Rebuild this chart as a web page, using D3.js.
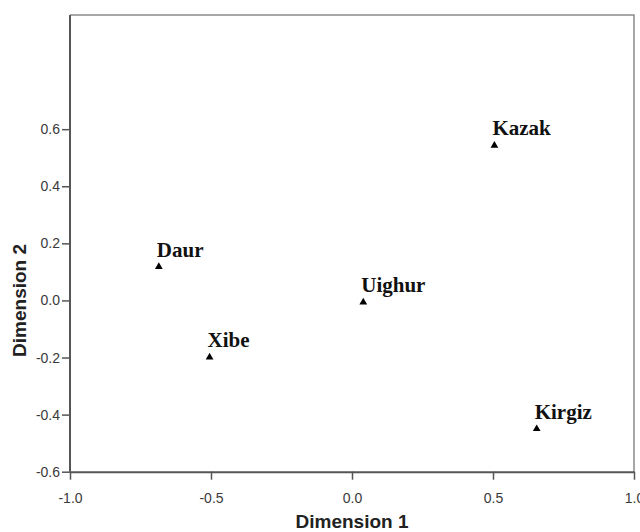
<!DOCTYPE html>
<html>
<head>
<meta charset="utf-8">
<script src="https://cdn.jsdelivr.net/npm/d3@7"></script>
<style>
  body { margin: 0; background: #fff; }
  .tick text { font-family: Arial, "Liberation Sans", sans-serif; font-size: 14px; fill: #3a3a3a; }
  .axis-title { font-family: Arial, "Liberation Sans", sans-serif; font-weight: bold; font-size: 19px; fill: #222; }
  .label { font-family: "Times New Roman", "Liberation Serif", serif; font-weight: bold; font-size: 21px; fill: #111; }
</style>
</head>
<body>
<div id="chart"></div>
<script>
// MDS stimulus coordinates
const groups = ['Daur', 'Xibe', 'Uighur', 'Kazak', 'Kirgiz'];
const dim1 = [-0.685, -0.505, 0.04, 0.505, 0.655];
const dim2 = [0.118, -0.199, -0.006, 0.543, -0.45];
const xTicks = [-1.0, -0.5, 0.0, 0.5, 1.0];
const yTicks = [-0.6, -0.4, -0.2, 0.0, 0.2, 0.4, 0.6];

const width = 640;
const height = 532;
const plotLeft = 70, plotRight = 634, plotTop = 15, plotBottom = 471.7;

// SPSS prints a plain hyphen for negatives
const fmt = d => d3.format('.1f')(d).replace('\u2212', '-');

const svg = d3.select('#chart')
  .append('svg')
  .attr('width', width)
  .attr('height', height);

const x = d3.scaleLinear().domain([-1, 1]).range([plotLeft, plotRight]);
const y = d3.scaleLinear().domain([-0.6, 1.0]).range([plotBottom, plotTop]);

const points = groups.map((name, i) => ({ name, d1: dim1[i], d2: dim2[i] }));

// top / right frame
svg.append('path')
  .attr('d', `M${plotLeft},${plotTop}H${plotRight}V${plotBottom}`)
  .attr('fill', 'none')
  .attr('stroke', '#8a8a8a')
  .attr('stroke-width', 1.5);

// axes
const xAxis = svg.append('g')
  .attr('transform', `translate(0,${plotBottom})`)
  .call(d3.axisBottom(x).tickValues(xTicks).tickFormat(fmt).tickSize(8).tickSizeOuter(0));
xAxis.select('.domain').attr('stroke', '#555').attr('stroke-width', 2);
xAxis.selectAll('.tick line').attr('stroke', '#555').attr('stroke-width', 1.5);
xAxis.selectAll('.tick text').attr('dy', '1.45em');

const yAxis = svg.append('g')
  .attr('transform', `translate(${plotLeft},0)`)
  .call(d3.axisLeft(y).tickValues(yTicks).tickFormat(fmt).tickSize(8).tickSizeOuter(0));
yAxis.select('.domain').attr('d', `M0,${plotTop}V${plotBottom}`).attr('stroke', '#555').attr('stroke-width', 2);
yAxis.selectAll('.tick line').attr('stroke', '#555').attr('stroke-width', 1.5);
yAxis.selectAll('.tick text').attr('x', -10);

// axis titles
svg.append('text')
  .attr('class', 'axis-title')
  .attr('x', x(0))
  .attr('y', 528)
  .attr('text-anchor', 'middle')
  .text('Dimension 1');

svg.append('text')
  .attr('class', 'axis-title')
  .attr('transform', `translate(26,${y(0)}) rotate(-90)`)
  .attr('text-anchor', 'middle')
  .text('Dimension 2');

// markers
svg.append('g')
  .selectAll('path')
  .data(points)
  .enter().append('path')
  .attr('d', d3.symbol().type(d3.symbolTriangle).size(26))
  .attr('transform', d => `translate(${x(d.d1)},${y(d.d2)})`)
  .attr('fill', '#000');

// labels
svg.append('g')
  .selectAll('text')
  .data(points)
  .enter().append('text')
  .attr('class', 'label')
  .attr('x', d => x(d.d1) - 2)
  .attr('y', d => y(d.d2) - 10)
  .text(d => d.name);
</script>
</body>
</html>
